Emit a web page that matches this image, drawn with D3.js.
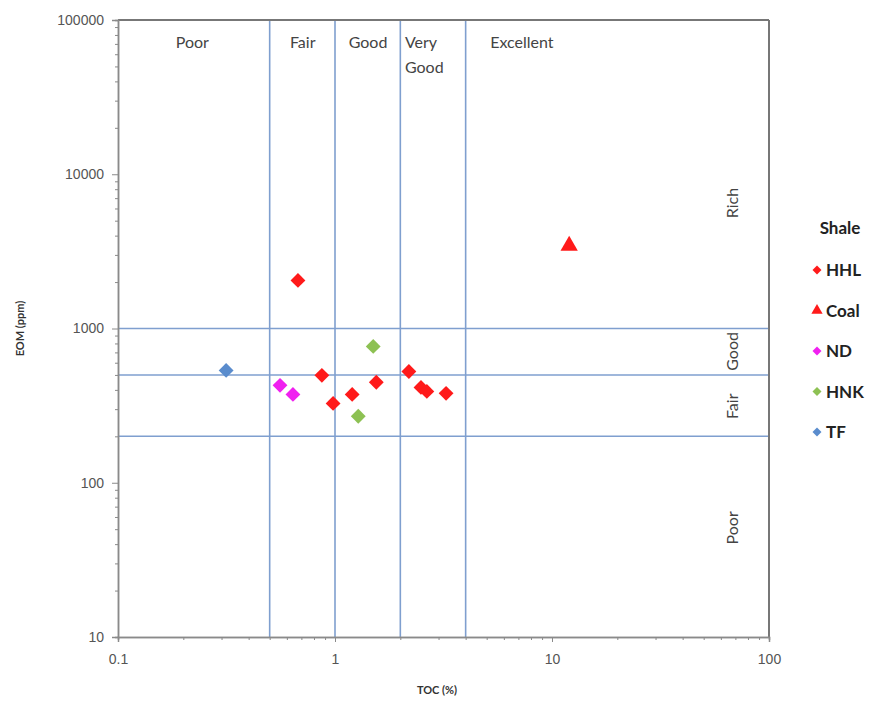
<!DOCTYPE html>
<html>
<head>
<meta charset="utf-8">
<script src="https://cdn.jsdelivr.net/npm/d3@7"></script>
<style>
  body { margin: 0; background: #fff; }
  svg { font-family: Lato, "Open Sans", sans-serif; }
</style>
</head>
<body>
<svg width="876" height="702"></svg>
<script>
(function(){
"use strict";

// series values: [TOC %, EOM ppm]
let hhl = [[0.675, 2050], [0.87, 497], [0.98, 327], [1.2, 374], [1.55, 448],
           [2.19, 526], [2.49, 415], [2.65, 391], [3.25, 380]];
let coal = [[12, 3440]];
let nd = [[0.558, 428], [0.64, 374]];
let hnk = [[1.5, 765], [1.28, 270]];
let tf = [[0.315, 535]];

let seriesNames = ["HHL", "Coal", "ND", "HNK", "TF"];
let seriesData = [hhl, coal, nd, hnk, tf];
let seriesColors = ["#ff1a1a", "#ff1a1a", "#f020f0", "#8dc153", "#5a8ccd"];
let seriesShapes = ["diamond", "triangle", "diamond", "diamond", "diamond"];

let xTickLabels = [0.1, 1, 10, 100];
let yTickLabels = [10, 100, 1000, 10000, 100000];

// class boundaries
let tocBounds = [0.5, 1, 2, 4];
let eomBounds = [200, 500, 1000];
let tocClasses = [
  {lines: ["Poor"], x: 0.22, anchor: "middle"},
  {lines: ["Fair"], x: 0.71, anchor: "middle"},
  {lines: ["Good"], x: 1.42, anchor: "middle"},
  {lines: ["Very", "Good"], x: 2.1, anchor: "start"},
  {lines: ["Excellent"], x: 7.27, anchor: "middle"}
];
let eomClasses = [
  {name: "Rich", y: 6500},
  {name: "Good", y: 710},
  {name: "Fair", y: 313},
  {name: "Poor", y: 51}
];

let svg = d3.select("svg");
let left = 118, right = 769, top = 20, bottom = 637;

let x = d3.scaleLog().domain([0.1, 100]).range([left, right]);
let y = d3.scaleLog().domain([10, 100000]).range([bottom, top]);

let axisColor = "#8a8a8a";
let gridColor = "#7f9fcf";

// minor ticks
let xMinor = [];
let yMinor = [];
[0.1, 1, 10].forEach(d => { for(let k = 2; k <= 9; k++) xMinor.push(d * k); });
[10, 100, 1000, 10000].forEach(d => { for(let k = 2; k <= 9; k++) yMinor.push(d * k); });

// grid
svg.append("g").selectAll("line").data(tocBounds).enter().append("line")
  .attr("x1", d => x(d)).attr("x2", d => x(d))
  .attr("y1", top).attr("y2", bottom)
  .attr("stroke", gridColor).attr("stroke-width", 1.6);
svg.append("g").selectAll("line").data(eomBounds).enter().append("line")
  .attr("x1", left).attr("x2", right)
  .attr("y1", d => y(d)).attr("y2", d => y(d))
  .attr("stroke", gridColor).attr("stroke-width", 1.6);

// frame
svg.append("line").attr("x1", left).attr("x2", right).attr("y1", top).attr("y2", top)
  .attr("stroke", "#777").attr("stroke-width", 2);
svg.append("line").attr("x1", right).attr("x2", right).attr("y1", top).attr("y2", bottom)
  .attr("stroke", "#777").attr("stroke-width", 2);

// axes
let xAxis = svg.append("g").attr("transform", `translate(0,${bottom})`)
  .call(d3.axisBottom(x).tickValues(xTickLabels).tickFormat(d => String(d)).tickSize(5).tickPadding(12));
let xAxisMinor = svg.append("g").attr("transform", `translate(0,${bottom})`)
  .call(d3.axisBottom(x).tickValues(xMinor).tickFormat("").tickSize(3));
let yAxis = svg.append("g").attr("transform", `translate(${left},0)`)
  .call(d3.axisLeft(y).tickValues(yTickLabels).tickFormat(d => String(d)).tickSize(6).tickPadding(8));
let yAxisMinor = svg.append("g").attr("transform", `translate(${left},0)`)
  .call(d3.axisLeft(y).tickValues(yMinor).tickFormat("").tickSize(3));

[xAxis, xAxisMinor, yAxis, yAxisMinor].forEach(g => {
  g.select(".domain").attr("stroke", axisColor).attr("stroke-width", 1.5);
  g.selectAll(".tick line").attr("stroke", axisColor);
  g.selectAll(".tick text").attr("fill", "#555").style("font-size", "14px");
});

// axis titles
svg.append("text").attr("x", x(1) + 102).attr("y", 694)
  .attr("text-anchor", "middle").attr("fill", "#333")
  .style("font-size", "11px").style("font-weight", "bold").text("TOC (%)");
svg.append("text").attr("transform", `translate(24,${y(1000)}) rotate(-90)`)
  .attr("text-anchor", "middle").attr("fill", "#333")
  .style("font-size", "11px").style("font-weight", "bold").text("EOM (ppm)");

// class labels
let tl = svg.append("g").selectAll("text").data(tocClasses).enter().append("text")
  .attr("x", d => x(d.x)).attr("y", 48)
  .attr("text-anchor", d => d.anchor).attr("fill", "#444").style("font-size", "16px");
tl.selectAll("tspan").data(d => d.lines).enter().append("tspan")
  .attr("x", function(){ return d3.select(this.parentNode).attr("x"); })
  .attr("dy", (d, i) => i ? 25 : 0).text(d => d);

svg.append("g").selectAll("text").data(eomClasses).enter().append("text")
  .attr("transform", d => `translate(738,${y(d.y)}) rotate(-90)`)
  .attr("text-anchor", "middle").attr("fill", "#444").style("font-size", "16px")
  .text(d => d.name);

// markers
let diamond = d3.symbol().type(d3.symbolSquare).size(110)();
let triangle = d3.symbol().type(d3.symbolTriangle).size(130)();

seriesData.forEach((data, i) => {
  svg.append("g").selectAll("path").data(data).enter().append("path")
    .attr("d", seriesShapes[i] === "triangle" ? triangle : diamond)
    .attr("transform", d => `translate(${x(d[0])},${y(d[1])})` + (seriesShapes[i] === "triangle" ? "" : " rotate(45)"))
    .attr("fill", seriesColors[i]);
});

// legend
let legend = svg.append("g");
legend.append("text").attr("x", 840).attr("y", 234).attr("text-anchor", "middle")
  .attr("fill", "#222").style("font-size", "17px").style("font-weight", "bold").text("Shale");
let li = legend.selectAll("g.item").data(seriesNames).enter().append("g")
  .attr("class", "item")
  .attr("transform", (d, i) => `translate(817,${270 + i * 40.5})`);
li.append("path")
  .attr("d", (d, i) => seriesShapes[i] === "triangle"
    ? d3.symbol().type(d3.symbolTriangle).size(55)()
    : d3.symbol().type(d3.symbolSquare).size(40)())
  .attr("transform", (d, i) => seriesShapes[i] === "triangle" ? "" : "rotate(45)")
  .attr("fill", (d, i) => seriesColors[i]);
li.append("text").attr("x", 9).attr("y", 6)
  .attr("fill", "#222").style("font-size", "17px").style("font-weight", "bold").text(d => d);

})();
</script>
</body>
</html>
